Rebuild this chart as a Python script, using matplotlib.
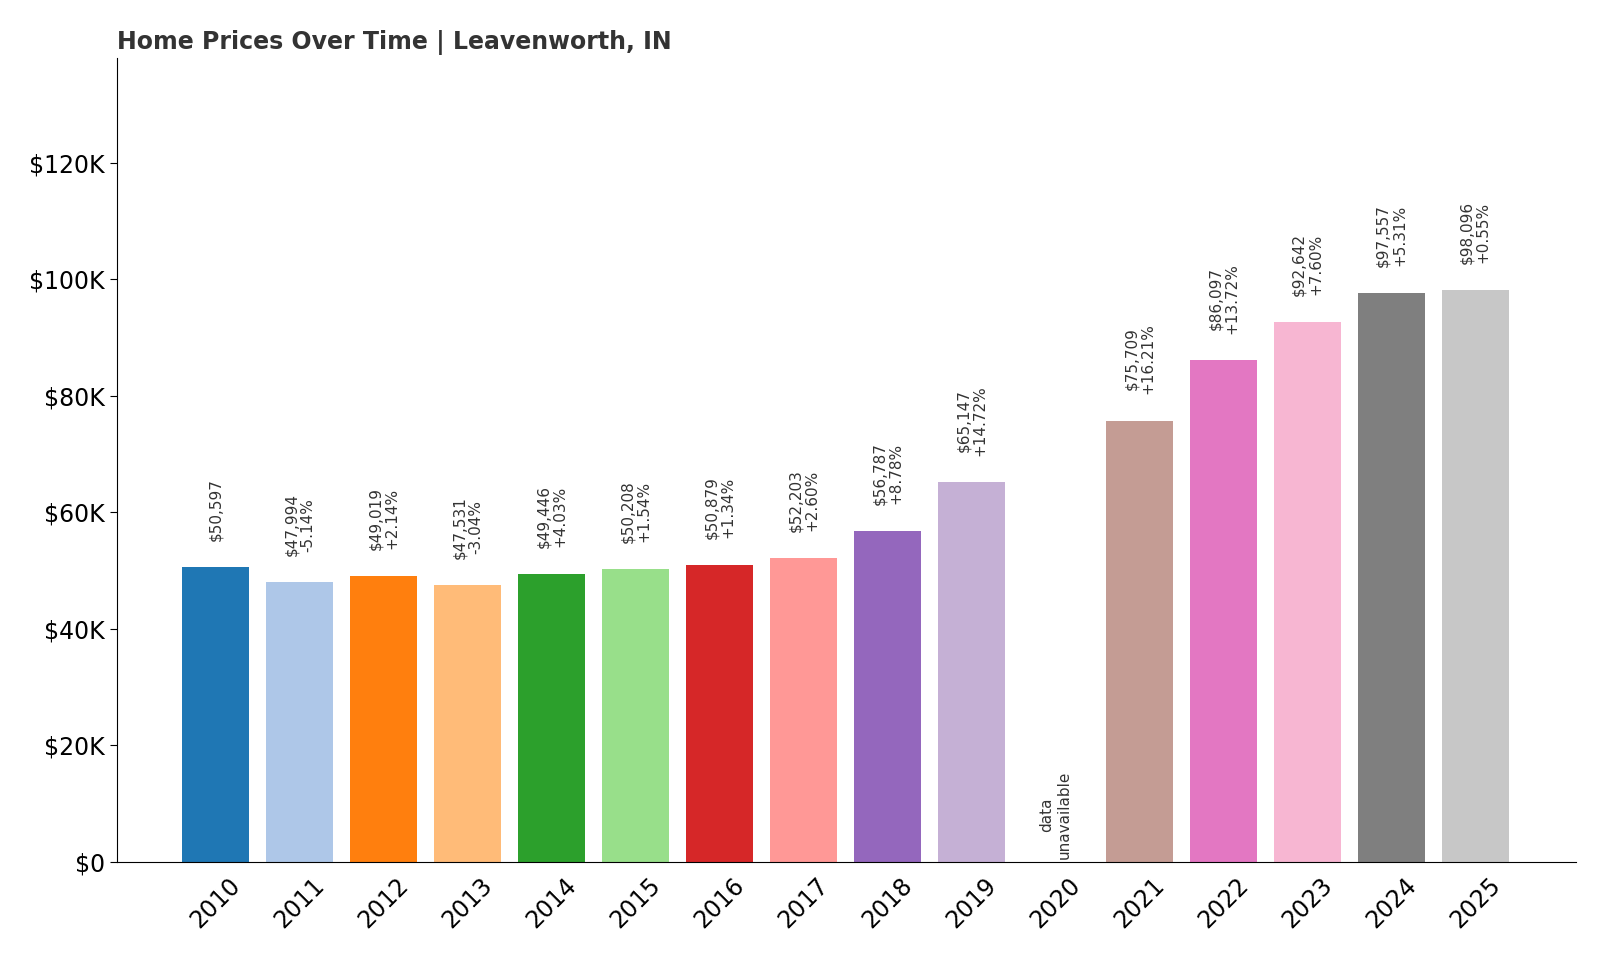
import matplotlib
matplotlib.use("Agg")
import matplotlib.pyplot as plt
import numpy as np

years = [str(y) for y in range(2010, 2026)]
values = [50597, 47994, 49019, 47531, 49446, 50208, 50879, 52203, 56787, 65147,
          None, 75709, 86097, 92642, 97557, 98096]
changes = [None, "-5.14%", "+2.14%", "-3.04%", "+4.03%", "+1.54%", "+1.34%", "+2.60%",
           "+8.78%", "+14.72%", None, "+16.21%", "+13.72%", "+7.60%", "+5.31%", "+0.55%"]
yticks = [0, 20000, 40000, 60000, 80000, 100000, 120000]
ytick_labels = ["$0", "$20K", "$40K", "$60K", "$80K", "$100K", "$120K"]

colors = plt.get_cmap("tab20").colors

fig = plt.figure(figsize=(16, 9.6), dpi=100)
ax = fig.add_axes([0.073, 0.102, 0.912, 0.838])
x = np.arange(len(years))
for i, v in enumerate(values):
    if v is None:
        ax.text(i, 500, "data\nunavailable", rotation=90, ha="center", va="bottom",
                fontsize=11, color="#333333")
        continue
    ax.bar(i, v, width=0.8, color=colors[i % 20])
    lbl = f"${v:,}" if changes[i] is None else f"${v:,}\n{changes[i]}"
    ax.text(i, v + 4500, lbl, rotation=90, ha="center", va="bottom", fontsize=11,
            color="#333333", linespacing=1.1)

ax.set_xticks(x)
ax.set_xticklabels(years, rotation=45, fontsize=17)
ax.set_yticks(yticks)
ax.set_yticklabels(ytick_labels, fontsize=17)
ax.set_ylim(0, 138000)
ax.set_xlim(-1.18, 16.2)
for s in ["top", "right"]:
    ax.spines[s].set_visible(False)
ax.tick_params(axis="x", length=0, pad=8)
ax.tick_params(axis="y", direction="out", length=5)
ax.set_title("Home Prices Over Time | Leavenworth, IN", loc="left", fontsize=17,
             fontweight="bold", color="#333333")
fig.savefig("out.png", dpi=100)
